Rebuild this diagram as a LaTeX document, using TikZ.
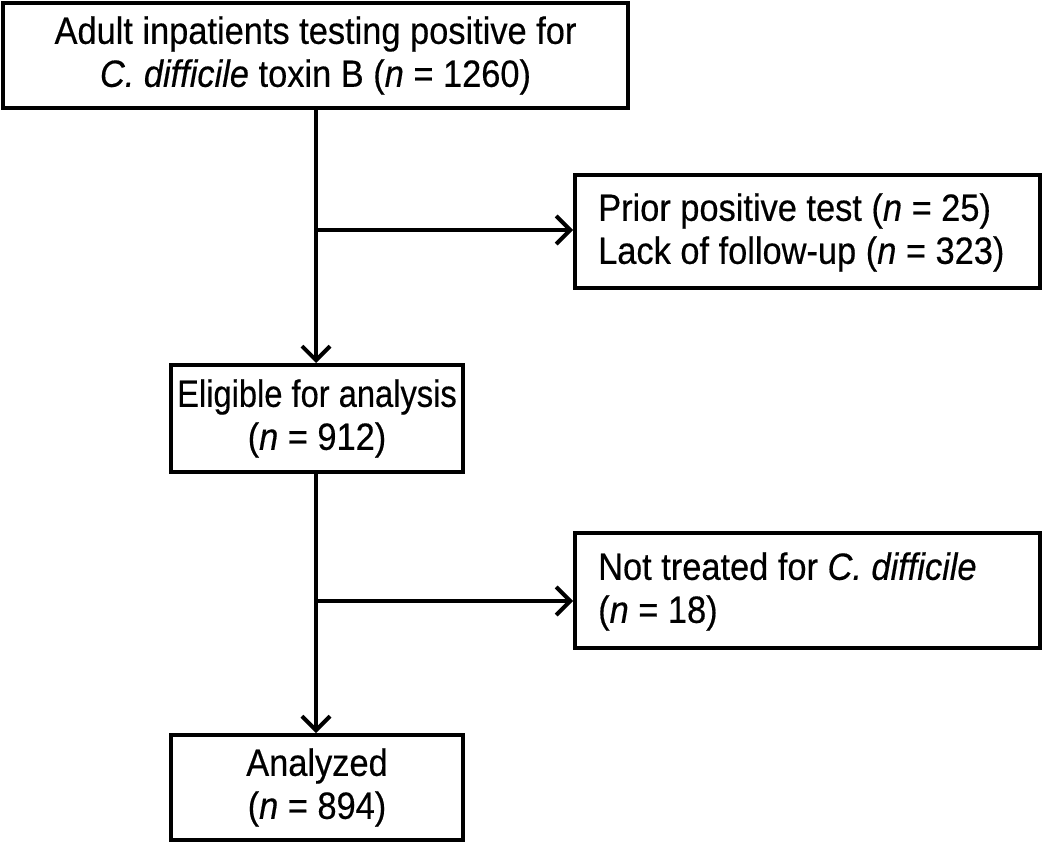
\documentclass[tikz,border=0pt]{standalone}
\usepackage{fontspec}
\usepackage{graphicx}
\setmainfont[FakeStretch=0.905,FakeBold=0.4]{Liberation Sans}
\usetikzlibrary{arrows.meta,calc}
\begin{document}
\begin{tikzpicture}[x=1pt,y=-1pt,
  txt/.style={font=\fontsize{38}{43}\selectfont},
  box/.style={draw,line width=4pt,inner sep=0pt,align=center,txt},
  sidebox/.style={draw,line width=4pt,inner sep=0pt},
  arr/.style={line width=4pt,-{Straight Barb[length=14pt,width=28pt,line width=4pt]}}]
\useasboundingbox (0,0) rectangle (1050,842);
\node[box,minimum width=625pt,minimum height=105pt] (b1) at (315.5,55.5)
  {Adult inpatients testing positive for\\\textit{C. difficile} toxin B (\textit{n} = 1260)};
\node[sidebox,minimum width=465pt,minimum height=113pt] (s1) at (807.5,231.5) {};
\node[anchor=west,align=left,inner sep=0pt,txt] (t1) at (598,232.5)
  {Prior positive test (\textit{n} = 25)\\Lack of follow-up (\textit{n} = 323)};
\node[box,minimum width=292pt,minimum height=107pt] (b2) at (317,418.5)
  {\scalebox{0.95}[1]{Eligible for analysis}\\(\textit{n} = 912)};
\node[sidebox,minimum width=465pt,minimum height=115pt] (s2) at (807.5,590.5) {};
\node[anchor=west,align=left,inner sep=0pt,txt] (t2) at (598,591.5)
  {Not treated for \textit{C. difficile}\\(\textit{n} = 18)};
\node[box,minimum width=292pt,minimum height=105pt] (b3) at (317,787.5)
  {Analyzed\\(\textit{n} = 894)};
\coordinate (j1) at (316,230);
\coordinate (j2) at (316,601);
\draw[arr] (b1.south -| j1) -- (b2.north -| j1);
\draw[arr] (j1) -- (j1 -| s1.west);
\draw[arr] (b2.south -| j2) -- (b3.north -| j2);
\draw[arr] (j2) -- (j2 -| s2.west);
\end{tikzpicture}
\end{document}
